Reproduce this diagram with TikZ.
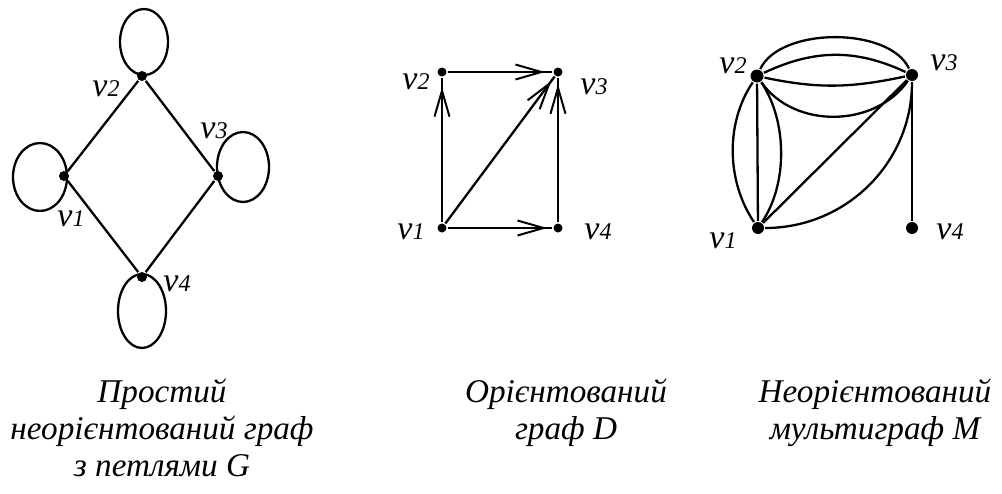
\documentclass[tikz,border=0pt]{standalone}
\usepackage{fontspec}
\setmainfont{Liberation Serif}
\usetikzlibrary{arrows.meta,decorations.markings}
\newcommand{\vlab}[1]{{\fontsize{17}{17}\selectfont\itshape v\fontsize{12}{12}\selectfont #1}}
\begin{document}
\begin{tikzpicture}[x=0.5pt,y=0.5pt,line width=1.15pt,
  dot/.style={circle,fill=black,inner sep=0pt,minimum size=#1},
  lab/.style={inner sep=0pt},
  captext/.style={font=\fontsize{16.6}{18.5}\selectfont\itshape,align=center,inner sep=0pt,anchor=north},
  arrowat/.style={postaction={decorate},decoration={markings,
     mark=at position #1 with {\arrow{Straight Barb[length=13pt,width=7.5pt,line width=1pt]}}}}]
\useasboundingbox (0,0) rectangle (1002,-493);

% ---------- Graph G ----------
\node[dot=5pt] (g1) at (64,-176) {};
\node[dot=5pt] (g2) at (142,-76) {};
\node[dot=5pt] (g3) at (218,-176) {};
\node[dot=5pt] (g4) at (142,-277) {};
\draw (g1) -- (g2) -- (g3) -- (g4) -- (g1);
\draw ([shift={(2,34)}]g2.center) ellipse [x radius=12pt, y radius=16.5pt];
\draw ([shift={(-24,-1)}]g1.center) ellipse [x radius=13.5pt, y radius=17pt];
\draw ([shift={(25,9)}]g3.center) ellipse [x radius=13pt, y radius=17.5pt];
\draw ([shift={(0,-34)}]g4.center) ellipse [x radius=12pt, y radius=18.5pt];
\node[lab] (lg2) at (106,-89) {\vlab{2}};
\node[lab] (lg3) at (214,-131) {\vlab{3}};
\node[lab] (lg1) at (71,-219) {\vlab{1}};
\node[lab] (lg4) at (177,-284) {\vlab{4}};
\node[captext] (cg) at (162,-378) {Простий\\неорієнтований граф\\з петлями G};

% ---------- Digraph D ----------
\node[dot=4.5pt] (d1) at (442,-228) {};
\node[dot=4.5pt] (d2) at (442,-72) {};
\node[dot=4.5pt] (d3) at (558,-72) {};
\node[dot=4.5pt] (d4) at (558,-228) {};
\draw[arrowat=0.935] (d1) -- (d2);
\draw[arrowat=0.93] (d2) -- (d3);
\draw[arrowat=0.95] (d1) -- (d4);
\draw[arrowat=0.97] (d1) -- (d3);
\draw[arrowat=0.955] (d4) -- (d3);
\node[lab] (ld2) at (416,-82) {\vlab{2}};
\node[lab] (ld3) at (594,-87) {\vlab{3}};
\node[lab] (ld1) at (411,-232) {\vlab{1}};
\node[lab] (ld4) at (598,-232) {\vlab{4}};
\node[captext] (cd) at (566,-378) {Орієнтований\\граф D};

% ---------- Multigraph M ----------
\node[dot=6pt] (m1) at (758,-228) {};
\node[dot=6.5pt] (m2) at (757,-76) {};
\node[dot=6pt] (m3) at (912,-75) {};
\node[dot=6pt] (m4) at (912,-228) {};
\draw (m2) to[out=65,in=115,looseness=0.8] (m3);
\draw (m2) to[out=25,in=155] (m3);
\draw (m2) to[out=-12,in=-168] (m3);
\draw (m2) to[out=-55,in=-125] (m3);
\draw (m1) -- (m2);
\draw (m1) to[out=124,in=-124,looseness=0.9] (m2);
\draw (m1) to[out=56,in=-56,looseness=0.85] (m2);
\draw (m1) -- (m3);
\draw (m1) to[out=0,in=-90] (m3);
\draw (m3) -- (m4);
\node[lab] (lm2) at (733,-66) {\vlab{2}};
\node[lab] (lm3) at (944,-63) {\vlab{3}};
\node[lab] (lm1) at (723,-241) {\vlab{1}};
\node[lab] (lm4) at (950,-232) {\vlab{4}};
\node[captext] (cm) at (875,-378) {Неорієнтований\\мультиграф M};
\end{tikzpicture}
\end{document}
